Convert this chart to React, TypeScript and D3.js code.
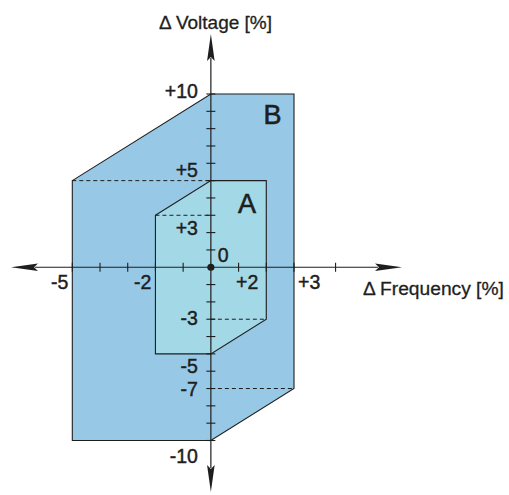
import React from "react";
import * as d3 from "d3";

// Zone outlines in (Δ frequency %, Δ voltage %)
const zoneB: [number, number][] = [[-5, 5], [0, 10], [3, 10], [3, -7], [0, -10], [-5, -10]];
const zoneA: [number, number][] = [[-2, 3], [0, 5], [2, 5], [2, -3], [0, -5], [-2, -5]];
const dashedLines: [number, number][][] = [
  [[-5, 5], [0, 5]],
  [[-2, 3], [0, 3]],
  [[0, -3], [2, -3]],
  [[0, -7], [3, -7]],
];
const xTickValues = [-5, -4, -3, -2, -1, 1, 2, 3, 4.5];
const yTickValues = [-10, -9, -8, -7, -6, -5, -4, -3, -2, -1, 1, 2, 3, 4, 5, 6, 7, 8, 9, 10];
const xLabelValues = [-5, -2, 2, 3];
const xLabelTexts = ["-5", "-2", "+2", "+3"];
const yLabelValues = [10, 5, 3, -3, -5, -7, -10];
const yLabelTexts = ["+10", "+5", "+3", "-3", "-5", "-7", "-10"];
const zoneNames = ["A", "B"];

const W = 509;
const H = 495;
const x = d3.scaleLinear().domain([-5, 3]).range([72.3, 294]);
const y = d3.scaleLinear().domain([-10, 10]).range([440.5, 94]);

const FONT = "'Liberation Sans', Arial, Helvetica, sans-serif";
const INK = "#1e1e1e";

// label placement offsets (px) relative to the tick position
const yLabelDy = [4, -4, 20, 6, 19, 7, 22];
const xLabelAnchor = ["end", "end", "end", "start"];
const xLabelDx = [-4, -4, -8, 4];

export default function App() {
  const line = d3.line<[number, number]>().x((d) => x(d[0])).y((d) => y(d[1]));
  const poly = (pts: [number, number][]) => line(pts) + "Z";
  const x0 = x(0);
  const y0 = y(0);

  const axisLeft = 11;
  const axisRight = 402;
  const axisTop = 34;
  const axisBottom = 492;
  const aL = 27; // arrow length
  const aW = 3.8; // arrow half width

  return (
    <svg
      width={W}
      height={H}
      style={{ position: "absolute", left: 0, top: 0, background: "#fff" }}
      fontFamily={FONT}
    >
      <path d={poly(zoneB)} fill="#97c9e6" stroke={INK} strokeWidth={1.1} />
      <path d={poly(zoneA)} fill="#a3d8e6" stroke={INK} strokeWidth={1.1} />
      {dashedLines.map((seg, i) => (
        <path key={i} d={line(seg) || ""} fill="none" stroke={INK} strokeWidth={1} strokeDasharray="4,3" />
      ))}

      {/* axes */}
      <line x1={axisLeft + aL - 3} x2={axisRight - aL + 3} y1={y0} y2={y0} stroke={INK} strokeWidth={1.2} />
      <line x1={x0} x2={x0} y1={axisTop + aL - 3} y2={axisBottom - aL + 3} stroke={INK} strokeWidth={1.2} />
      <path
        d={`M${axisRight},${y0} L${axisRight - aL},${y0 - aW} L${axisRight - aL + 4},${y0} L${axisRight - aL},${y0 + aW} Z`}
        fill={INK}
      />
      <path
        d={`M${axisLeft},${y0} L${axisLeft + aL},${y0 - aW} L${axisLeft + aL - 4},${y0} L${axisLeft + aL},${y0 + aW} Z`}
        fill={INK}
      />
      <path
        d={`M${x0},${axisTop} L${x0 - aW},${axisTop + aL} L${x0},${axisTop + aL - 4} L${x0 + aW},${axisTop + aL} Z`}
        fill={INK}
      />
      <path
        d={`M${x0},${axisBottom} L${x0 - aW},${axisBottom - aL} L${x0},${axisBottom - aL + 4} L${x0 + aW},${axisBottom - aL} Z`}
        fill={INK}
      />

      {xTickValues.map((v) => (
        <line key={"xt" + v} x1={x(v)} x2={x(v)} y1={y0 - 4.5} y2={y0 + 4.5} stroke={INK} strokeWidth={1.1} />
      ))}
      {yTickValues.map((v) => (
        <line key={"yt" + v} x1={x0 - 4.5} x2={x0 + 4.5} y1={y(v)} y2={y(v)} stroke={INK} strokeWidth={1.1} />
      ))}
      <circle cx={x0} cy={y0} r={3.6} fill={INK} />

      {/* labels */}
      <g fontSize={19.5} fill={INK} stroke={INK} strokeWidth={0.45}>
        {xLabelValues.map((v, i) => (
          <text key={"xl" + v} x={x(v) + xLabelDx[i]} y={289} textAnchor={xLabelAnchor[i] as any}>
            {xLabelTexts[i]}
          </text>
        ))}
        {yLabelValues.map((v, i) => (
          <text key={"yl" + v} x={x0 - 13} y={y(v) + yLabelDy[i]} textAnchor="end">
            {yLabelTexts[i]}
          </text>
        ))}
        <text x={x0 + 7} y={y0 - 5}>0</text>
      </g>
      <g fill={INK} stroke={INK} strokeWidth={0.3}>
        <text x={159} y={29} fontSize={19}>Δ Voltage [%]</text>
        <text x={363} y={295} fontSize={19.2}>Δ Frequency [%]</text>
      </g>
      <g fill={INK} stroke={INK} strokeWidth={0.6} fontSize={27}>
        <text x={238} y={212.5}>{zoneNames[0]}</text>
        <text x={263.5} y={124}>{zoneNames[1]}</text>
      </g>
    </svg>
  );
}
